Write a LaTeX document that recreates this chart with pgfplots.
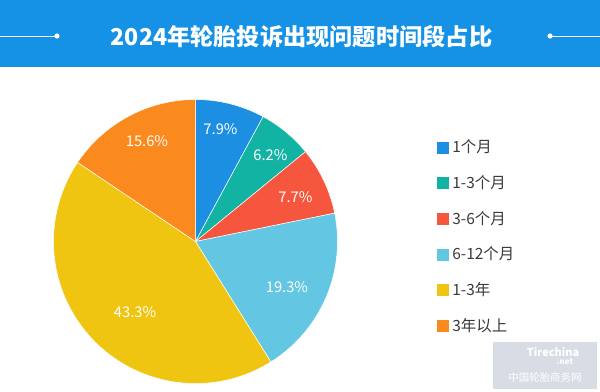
\documentclass[border=0pt]{standalone}
\usepackage{pgfplots}
\pgfplotsset{compat=1.18}
\usepackage{pgfplotstable}
\usepackage{fontspec}
\setmainfont{Noto Sans CJK SC}
\definecolor{titleblue}{HTML}{1592E6}
\definecolor{slice0}{HTML}{1C8FE3}
\definecolor{slice1}{HTML}{12B3A2}
\definecolor{slice2}{HTML}{F5563D}
\definecolor{slice3}{HTML}{63C6E3}
\definecolor{slice4}{HTML}{F0C511}
\definecolor{slice5}{HTML}{FA8A1E}
\definecolor{legtext}{HTML}{3A3A3A}
\definecolor{wmark}{HTML}{D8DDE5}

% value = percentage; lx, ly = label position in units of the radius
\pgfplotstableread{
value lx ly
7.9 0.176 0.789
6.2 0.528 0.606
7.7 0.704 0.310
19.3 0.644 -0.324
43.3 -0.426 -0.496
15.6 -0.342 0.704
}\piedata

\begin{document}
\begin{tikzpicture}[x=1bp,y=1bp]
\useasboundingbox (0,0) rectangle (600,-391);
\fill[white] (0,0) rectangle (600,-391);
% title bar
\fill[titleblue] (0,0) rectangle (600,-67);
\node[text=white, font=\bfseries\fontsize{23.3}{23.3}\selectfont] at (301.5,-37) {2024年轮胎投诉出现问题时间段占比};
\draw[white, line width=1pt] (0,-36) -- (57,-36);
\fill[white] (57,-36) circle (2.6);
\draw[white, line width=1pt] (550,-36) -- (600,-36);
\fill[white] (550,-36) circle (2.6);
% watermark
\fill[wmark] (493,-342) rectangle (597,-389);
\node[text=white, font=\bfseries\itshape\fontsize{11}{11}\selectfont] at (553,-352) {Tirechina};
\node[text=white, font=\bfseries\itshape\fontsize{8}{8}\selectfont] at (565,-362) {.net};
\node[text=white, font=\fontsize{10.5}{10.5}\selectfont] at (545,-377) {中国轮胎商务网};

\begin{axis}[
  hide axis, clip=false,
  x=142bp, y=142bp,
  xmin=-1.05, xmax=1.05, ymin=-1.05, ymax=1.05,
  at={(195.5bp,-241.5bp)}, anchor=center,
  sq/.style={legend image code/.code={\fill[#1] (0bp,-5.5bp) rectangle (11bp,5.5bp);}},
  legend style={
    at={(axis cs:1.7007,0.704)}, anchor=north west,
    draw=none, fill=none, inner sep=0pt, outer sep=0pt,
    font=\fontsize{15.5}{15.5}\selectfont, text=legtext,
    cells={anchor=west},
    nodes={inner sep=0pt, text height=11bp, text depth=0bp},
    row sep=24.3bp,
    /tikz/every odd column/.append style={column sep=4bp},
  },
]
\xdef\start{90}
\pgfplotsinvokeforeach{0,...,5}{
  \pgfplotstablegetelem{#1}{value}\of\piedata \let\v\pgfplotsretval
  \pgfplotstablegetelem{#1}{lx}\of\piedata \let\lx\pgfplotsretval
  \pgfplotstablegetelem{#1}{ly}\of\piedata \let\ly\pgfplotsretval
  \pgfmathsetmacro\stopa{\start-3.6*\v}
  \edef\temp{\noexpand\fill[fill=slice#1, draw=white, line width=0.5pt, line join=round]
    (axis cs:0,0) -- (axis cs:{cos(\start)},{sin(\start)})
    arc[start angle=\start, end angle=\stopa, radius=142bp] -- cycle;
    \noexpand\node[text=white, font=\noexpand\fontsize{14.8}{14.8}\noexpand\selectfont]
    at (axis cs:\lx,\ly) {\v\noexpand\%};}
  \temp
  \xdef\start{\stopa}
}
\addlegendimage{sq=slice0}\addlegendentry{1个月}
\addlegendimage{sq=slice1}\addlegendentry{1-3个月}
\addlegendimage{sq=slice2}\addlegendentry{3-6个月}
\addlegendimage{sq=slice3}\addlegendentry{6-12个月}
\addlegendimage{sq=slice4}\addlegendentry{1-3年}
\addlegendimage{sq=slice5}\addlegendentry{3年以上}
\end{axis}
\end{tikzpicture}
\end{document}
